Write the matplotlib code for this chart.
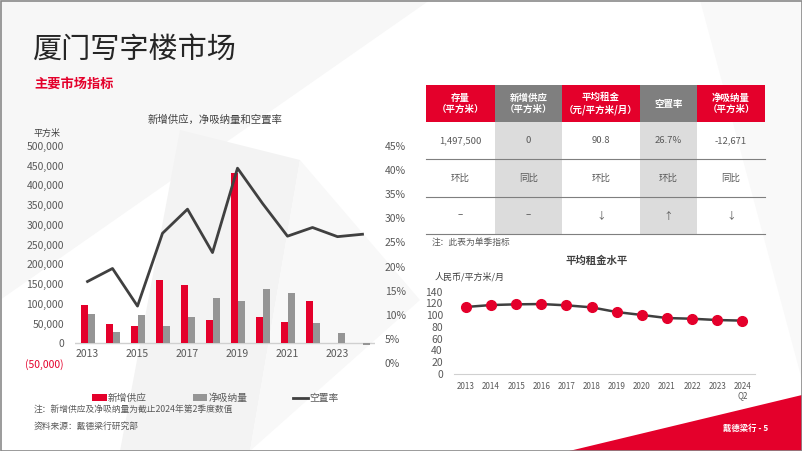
import matplotlib.pyplot as plt
from matplotlib.patches import Rectangle, Polygon
import numpy as np

plt.rcParams['font.family'] = ['Noto Sans CJK SC', 'DejaVu Sans']

# data
years = ['2013', '2014', '2015', '2016', '2017', '2018', '2019', '2020', '2021', '2022', '2023', '2024']
new_supply = [97000, 48000, 44000, 160000, 147000, 58000, 432000, 67000, 53000, 108000, 0, 0]
net_absorption = [74000, 28000, 72000, 45000, 67000, 114000, 107000, 138000, 127000, 51000, 27000, -4000]
vacancy = [0.169, 0.196, 0.118, 0.269, 0.319, 0.229, 0.404, 0.331, 0.263, 0.281, 0.262, 0.267]

rent_labels = ['2013', '2014', '2015', '2016', '2017', '2018', '2019', '2020', '2021', '2022', '2023', '2024\nQ2']
rent = [114, 117.3, 118.5, 119, 116.8, 113.4, 105.4, 100.4, 95.2, 94, 91.8, 90.8]

tbl_header = ['存量\n（平方米）', '新增供应\n（平方米）', '平均租金\n（元/平方米/月）', '空置率', '净吸纳量\n（平方米）']
tbl_values = ['1,497,500', '0', '90.8', '26.7%', '-12,671']
tbl_compare = ['环比', '同比', '环比', '环比', '同比']
tbl_trend = ['–', '–', '↓', '↑', '↓']

RED = '#E4002B'
GREY = '#959595'
DARK = '#404040'
TXT = '#595959'

W, H = 802, 451
fig = plt.figure(figsize=(W / 100, H / 100), dpi=100)

def fx(px):
    return px / W

def fy(py):
    return 1 - py / H

# overlay in pixel coordinates
ov = fig.add_axes([0, 0, 1, 1], zorder=0)
ov.set_xlim(0, W)
ov.set_ylim(H, 0)
ov.axis('off')

# faint background shapes
ov.add_patch(Polygon([(0, 0), (430, 0), (0, 300)], closed=True, color='#f7f7f7', lw=0))
ov.add_patch(Polygon([(180, 130), (300, 160), (250, 451), (120, 451)], closed=True, color='#f3f3f3', lw=0))
ov.add_patch(Polygon([(300, 160), (420, 300), (250, 451)], closed=True, color='#f8f8f8', lw=0))
ov.add_patch(Polygon([(700, 0), (802, 0), (802, 380)], closed=True, color='#f9f9f9', lw=0))

# red corner
ov.add_patch(Polygon([(565, 452), (802, 395), (802, 452)], closed=True, color=RED, lw=0))
ov.text(723, 428, '戴德梁行 - 5', color='white', fontsize=6, fontweight='bold', va='center')

# frame
ov.add_patch(Rectangle((0.5, 0.5), W - 1, H - 1, fill=False, ec='#8a8a8a', lw=1.2))

# titles
ov.text(33, 50, '厦门写字楼市场', fontsize=21, color='#262626', va='center')
ov.text(34, 84, '主要市场指标', fontsize=9.5, color=RED, fontweight='bold', va='center')

# notes
ov.text(34, 410, '注：新增供应及净吸纳量为截止2024年第2季度数值', fontsize=6.3, color=TXT, va='center')
ov.text(34, 426, '资料来源：戴德梁行研究部', fontsize=6.3, color=TXT, va='center')

# ---------------- left chart ----------------
ax = fig.add_axes([fx(75), fy(363), fx(300), (363 - 146) / H], zorder=2)
ax.patch.set_alpha(0)
x = np.arange(len(years))
bw = 0.28
b1 = ax.bar(x - bw / 2, new_supply, bw, color=RED, label='新增供应', zorder=3)
b2 = ax.bar(x + bw / 2, net_absorption, bw, color=GREY, label='净吸纳量', zorder=3)
ax.set_xlim(-0.5, len(years) - 0.5)
ax.set_ylim(-50000, 500000)
ax.axhline(0, color='#d0d0d0', lw=1, zorder=2)
for s in ax.spines.values():
    s.set_visible(False)
ax.set_xticks([])
yt = np.arange(-50000, 500001, 50000)
ax.set_yticks(yt)
ax.set_yticklabels(['(50,000)' if v < 0 else f'{v:,}' for v in yt])
ax.tick_params(axis='y', length=0, pad=8, labelsize=7.5, labelcolor=TXT)
ax.get_yticklabels()[0].set_color(RED)
for i in range(0, len(years), 2):
    ax.annotate(years[i], (x[i], 0), xytext=(0, -4), textcoords='offset points',
                ha='center', va='top', fontsize=7.5, color=TXT)

ax2 = ax.twinx()
ax2.patch.set_alpha(0)
l1, = ax2.plot(x, vacancy, color=DARK, lw=2, label='空置率', zorder=4)
ax2.set_ylim(0, 0.45)
pt = np.arange(0, 0.451, 0.05)
ax2.set_yticks(pt)
ax2.set_yticklabels([f'{round(v * 100)}%' for v in pt])
ax2.tick_params(axis='y', length=0, pad=7, labelsize=7.5, labelcolor=TXT)
for s in ax2.spines.values():
    s.set_visible(False)

ov.text(215, 120, '新增供应，净吸纳量和空置率', fontsize=7.5, color='#404040', ha='center', va='center')
ov.text(33, 133, '平方米', fontsize=6.5, color='#404040', va='center')

fig.legend(handles=[b1, b2, l1], labels=['新增供应', '净吸纳量', '空置率'],
           loc='center left', bbox_to_anchor=(fx(92), fy(398)), ncol=3, frameon=False,
           fontsize=7, handlelength=1.5, handletextpad=0.15, columnspacing=4.7,
           borderpad=0, borderaxespad=0, labelcolor=TXT)

# ---------------- table ----------------
col_x = [426, 495, 562, 640, 697, 765]
row_y = [85, 122, 159, 197, 234]
head_cols = [RED, '#7f7f7f', RED, '#7f7f7f', RED]
for c in range(5):
    x0, x1 = col_x[c], col_x[c + 1]
    ov.add_patch(Rectangle((x0, row_y[0]), x1 - x0, row_y[1] - row_y[0], color=head_cols[c], lw=0))
    if c in (1, 3):
        ov.add_patch(Rectangle((x0, row_y[1]), x1 - x0, row_y[4] - row_y[1], color='#dcdcdc', lw=0))
    xc = (x0 + x1) / 2
    ov.text(xc, (row_y[0] + row_y[1]) / 2, tbl_header[c], color='white', fontsize=6.8,
            fontweight='bold', ha='center', va='center', linespacing=1.2)
    ov.text(xc, (row_y[1] + row_y[2]) / 2, tbl_values[c], color=TXT, fontsize=6.8, ha='center', va='center')
    ov.text(xc, (row_y[2] + row_y[3]) / 2, tbl_compare[c], color=TXT, fontsize=6.8, ha='center', va='center')
    ov.text(xc, (row_y[3] + row_y[4]) / 2, tbl_trend[c], color=TXT, fontsize=7, ha='center', va='center')
for r in row_y[2:]:
    ov.plot([col_x[0], col_x[-1]], [r, r], color='#7f7f7f', lw=0.8)
ov.text(432, 242, '注：此表为单季指标', fontsize=6.3, color=TXT, va='center')

# ---------------- rent chart ----------------
ax3 = fig.add_axes([fx(454), fy(374), fx(301), (374 - 291.7) / H], zorder=2)
ax3.patch.set_alpha(0)
xr = np.arange(len(rent))
ax3.plot(xr, rent, color=DARK, lw=1.8, marker='o', markersize=7,
         markerfacecolor=RED, markeredgecolor=RED, zorder=3)
ax3.set_xlim(-0.47, len(rent) - 0.5)
ax3.set_ylim(0, 140)
ax3.set_yticks(np.arange(0, 141, 20))
ax3.tick_params(axis='y', length=0, pad=8, labelsize=7.5, labelcolor=TXT)
ax3.set_xticks(xr)
ax3.set_xticklabels(rent_labels)
ax3.tick_params(axis='x', length=0, pad=6, labelsize=5.8, labelcolor=TXT)
for lbl in ax3.get_xticklabels():
    lbl.set_linespacing(1.0)
for k, s in ax3.spines.items():
    s.set_visible(k == 'bottom')
ax3.spines['bottom'].set_color('#d0d0d0')

ov.text(597, 261, '平均租金水平', fontsize=7.5, color='#404040', fontweight='bold', ha='center', va='center')
ov.text(435, 277, '人民币/平方米/月', fontsize=6.5, color='#404040', va='center')

fig.savefig('out.png', dpi=100)
